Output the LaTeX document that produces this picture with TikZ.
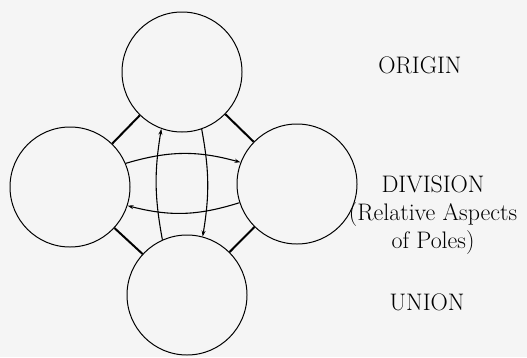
\documentclass[tikz,border=0pt]{standalone}
\usetikzlibrary{arrows.meta}
\begin{document}
\begin{tikzpicture}[
        x=1bp, y=1bp,
        pole/.style={draw, circle, line width=1pt, minimum size=120bp, inner sep=0pt},
        bond/.style={line width=2pt},
        flow/.style={-{Stealth[length=6pt,width=4pt]}, line width=1.1pt},
        label/.style={font=\fontsize{24}{28}\selectfont, align=center}
    ]
        % Fond et cadre.
        \fill[black!4] (0,0) rectangle (527,357);
        \useasboundingbox (0,0) rectangle (527,357);

        % Les quatre cercles.
        \node[pole] (origin) at (182,285) {};
        \node[pole] (poleL) at (70,170) {};
        \node[pole] (poleR) at (297,173) {};
        \node[pole] (union) at (187,62) {};

        % Liens entre cercles voisins.
        \draw[bond] (origin) -- (poleL);
        \draw[bond] (origin) -- (poleR);
        \draw[bond] (union) -- (poleL);
        \draw[bond] (union) -- (poleR);

        % Fleches entre les poles.
        \draw[flow] (poleL.23) to[bend left=16] (poleR.159);
        \draw[flow] (poleR.-162) to[bend left=16] (poleL.-18);
        \draw[flow] (union.114) to[bend left=10] (origin.250);
        \draw[flow] (origin.-71) to[bend left=10] (union.75);

        % Textes.
        \node[label] (originText) at (420,292) {ORIGIN};
        \node[label] (divisionText) at (433,142) {DIVISION\\(Relative Aspects\\of Poles)};
        \node[label] (unionText) at (427,55) {UNION};
    \end{tikzpicture}
\end{document}
